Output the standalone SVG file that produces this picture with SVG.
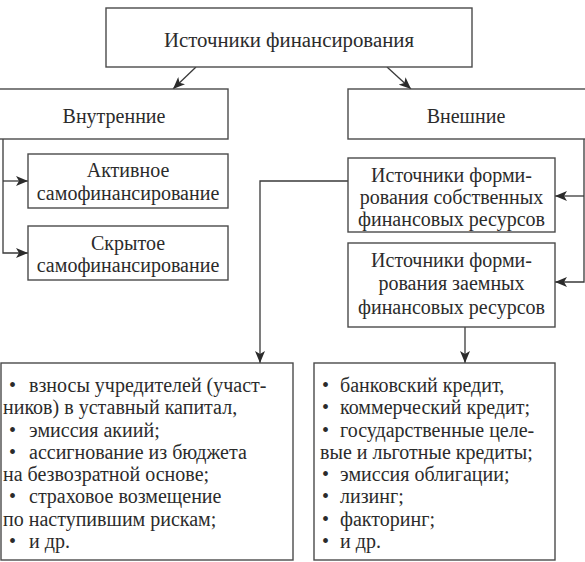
<svg xmlns="http://www.w3.org/2000/svg" width="585" height="562" viewBox="0 0 585 562">
<style>
.box{fill:#fff;stroke:#4a4a4a;stroke-width:1.4}
.ln{fill:none;stroke:#3a3a3a;stroke-width:1.3}
</style>
<defs>
<marker id="ah" viewBox="0 0 12 10" refX="12" refY="5" markerWidth="12" markerHeight="10" markerUnits="userSpaceOnUse" orient="auto">
<path d="M0,0 L12,5 L0,10 L3,5 Z" fill="#2b2b2b"/>
</marker>
</defs>
<rect width="585" height="562" fill="#fff"/>
<g id="connectors">
<line class="ln" x1="196" y1="67" x2="173" y2="89" marker-end="url(#ah)"/>
<line class="ln" x1="387" y1="67" x2="411" y2="89" marker-end="url(#ah)"/>
<polyline class="ln" points="3,139 3,253 28,253" marker-end="url(#ah)"/>
<line class="ln" x1="3" y1="181" x2="28" y2="181" marker-end="url(#ah)"/>
<polyline class="ln" points="584,139 584,282 555,282" marker-end="url(#ah)"/>
<line class="ln" x1="584" y1="196" x2="555" y2="196" marker-end="url(#ah)"/>
<polyline class="ln" points="348,181 260,181 260,363" marker-end="url(#ah)"/>
<line class="ln" x1="465" y1="327" x2="465" y2="363" marker-end="url(#ah)"/>
</g>
<g font-family="'Liberation Serif', serif" font-size="20" fill="#2b2b2b">
<g id="root">
<rect class="box" x="106" y="8" width="366" height="59"/>
<text text-anchor="middle" x="289" y="47" font-size="20.8">Источники финансирования</text>
</g>
<g id="internal">
<rect class="box" x="-1" y="89" width="229" height="50"/>
<text text-anchor="middle" x="114" y="123">Внутренние</text>
</g>
<g id="external">
<rect class="box" x="348" y="89" width="240" height="50"/>
<text text-anchor="middle" x="466" y="123">Внешние</text>
</g>
<g id="active">
<rect class="box" x="28" y="154" width="200" height="54"/>
<text text-anchor="middle" x="128" y="177">Активное</text>
<text text-anchor="middle" x="128" y="200">самофинансирование</text>
</g>
<g id="hidden">
<rect class="box" x="28" y="226" width="200" height="54"/>
<text text-anchor="middle" x="128" y="250">Скрытое</text>
<text text-anchor="middle" x="128" y="272">самофинансирование</text>
</g>
<g id="own">
<rect class="box" x="348" y="158" width="207" height="74"/>
<text text-anchor="middle" x="451.5" y="182">Источники форми-</text>
<text text-anchor="middle" x="451.5" y="204">рования собственных</text>
<text text-anchor="middle" x="451.5" y="226">финансовых ресурсов</text>
</g>
<g id="borrowed">
<rect class="box" x="348" y="243" width="207" height="84"/>
<text text-anchor="middle" x="451.5" y="267">Источники форми-</text>
<text text-anchor="middle" x="451.5" y="290">рования заемных</text>
<text text-anchor="middle" x="451.5" y="314">финансовых ресурсов</text>
</g>
<g id="own-list">
<rect class="box" x="1" y="363" width="292" height="197"/>
<text y="392"><tspan x="9">•</tspan><tspan x="29">взносы учредителей (участ-</tspan></text>
<text x="3" y="414.3">ников) в уставный капитал,</text>
<text y="436.6"><tspan x="9">•</tspan><tspan x="29">эмиссия акиий;</tspan></text>
<text y="458.9"><tspan x="9">•</tspan><tspan x="29">ассигнование из бюджета</tspan></text>
<text x="3" y="481.1">на безвозратной основе;</text>
<text y="503.4"><tspan x="9">•</tspan><tspan x="29">страховое возмещение</tspan></text>
<text x="3" y="525.7">по наступившим рискам;</text>
<text y="548"><tspan x="9">•</tspan><tspan x="29">и др.</tspan></text>
</g>
<g id="borrowed-list">
<rect class="box" x="314" y="363" width="241" height="197"/>
<text y="392"><tspan x="322">•</tspan><tspan x="340">банковский кредит,</tspan></text>
<text y="414.3"><tspan x="322">•</tspan><tspan x="340">коммерческий кредит;</tspan></text>
<text y="436.6"><tspan x="322">•</tspan><tspan x="340">государственные целе-</tspan></text>
<text x="320" y="458.9">вые и льготные кредиты;</text>
<text y="481.1"><tspan x="322">•</tspan><tspan x="340">эмиссия облигации;</tspan></text>
<text y="503.4"><tspan x="322">•</tspan><tspan x="340">лизинг;</tspan></text>
<text y="525.7"><tspan x="322">•</tspan><tspan x="340">факторинг;</tspan></text>
<text y="548"><tspan x="322">•</tspan><tspan x="340">и др.</tspan></text>
</g>
</g>
</svg>
